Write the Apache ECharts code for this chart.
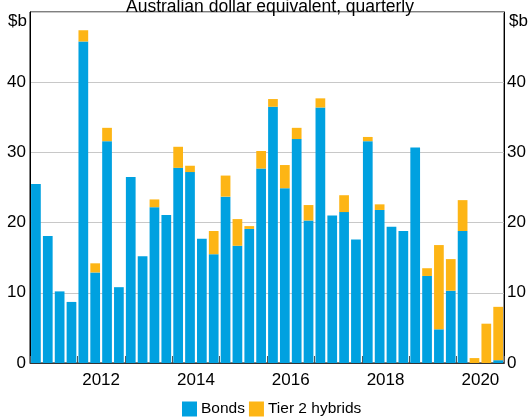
<!DOCTYPE html>
<html>
<head>
<meta charset="utf-8">
<title>Bond issuance</title>
<script src="https://cdn.jsdelivr.net/npm/echarts@6/dist/echarts.min.js"></script>
</head>
<body style="margin:0;padding:0">
<div id="chart" style="width:529px;height:419px"></div>
<script type="text/javascript">
// quarterly, 2011 Q1 .. 2020 Q4
var quarters = [];
var years = ['2011', '2012', '2013', '2014', '2015', '2016', '2017', '2018', '2019', '2020'];
years.forEach(function (y) {
	for (var q = 1; q <= 4; q++) quarters.push(y + ' Q' + q);
});

var bonds = [25.5, 18.1, 10.2, 8.7, 45.8, 12.9, 31.6, 10.8, 26.5, 15.2,
	22.2, 21.1, 27.8, 27.2, 17.7, 15.5, 23.7, 16.7, 19.1, 27.7,
	36.5, 24.9, 31.9, 20.3, 36.4, 21.0, 21.5, 17.6, 31.6, 21.8,
	19.4, 18.8, 30.7, 12.4, 4.8, 10.3, 18.8, 0, 0, 0.4];
var tier2 = [0, 0, 0, 0, 1.6, 1.3, 1.9, 0, 0, 0,
	1.1, 0, 3.0, 0.9, 0, 3.3, 3.0, 3.8, 0.4, 2.5,
	1.1, 3.3, 1.6, 2.2, 1.3, 0, 2.4, 0, 0.6, 0.8,
	0, 0, 0, 1.1, 12.0, 4.5, 4.4, 0.7, 5.6, 7.6];

var blue = '#00A1E0';
var orange = '#FDB515';
var font = 'Arial, "Liberation Sans", sans-serif';

var chart = echarts.init(document.getElementById('chart'));

var yAxisBase = {
	type: 'value',
	min: 0,
	max: 50,
	interval: 10,
	axisLine: { show: true, lineStyle: { color: '#000', width: 1 } },
	axisTick: { show: false },
	splitLine: { show: true, lineStyle: { color: '#c8c8c8', width: 1 } },
	axisLabel: {
		color: '#000',
		fontSize: 17,
		fontFamily: font,
		formatter: function (v) { return v === 50 ? '' : v; }
	}
};

var option = {
	backgroundColor: '#fff',
	animation: false,
	title: {
		text: 'Australian dollar equivalent, quarterly',
		left: 121,
		top: -7,
		textStyle: { color: '#000', fontSize: 17.5, fontWeight: 'normal', fontFamily: font }
	},
	grid: {
		left: 30,
		right: 22.5,
		top: 12,
		bottom: 56,
		show: true,
		borderColor: '#000',
		borderWidth: 1
	},
	legend: {
		data: ['Bonds', 'Tier 2 hybrids'],
		left: 177,
		bottom: -3,
		itemWidth: 15,
		itemHeight: 15,
		itemGap: 4,
		icon: 'rect',
		textStyle: { color: '#000', fontSize: 15.5, fontFamily: font, padding: [0, 0, 0, -1] }
	},
	graphic: [
		{ type: 'text', right: 502, top: 13, style: { text: '$b', fill: '#000', font: '17px ' + font, textAlign: 'right' } },
		{ type: 'text', left: 509, top: 13, style: { text: '$b', fill: '#000', font: '17px ' + font } }
	],
	xAxis: [
		{
			type: 'category',
			data: quarters,
			axisLine: { show: true, lineStyle: { color: '#333', width: 1 } },
			axisTick: { show: false },
			axisLabel: { show: false }
		},
		{
			type: 'category',
			data: years,
			position: 'bottom',
			axisLine: { show: false },
			axisTick: { show: true, inside: true, length: 7, interval: 0, lineStyle: { color: '#555', width: 1 } },
			axisLabel: {
				color: '#000',
				fontSize: 17,
				fontFamily: font,
				margin: 9,
				interval: 0,
				formatter: function (v) { return Number(v) % 2 === 0 ? v : ''; }
			}
		}
	],
	yAxis: [
		Object.assign({}, yAxisBase, { position: 'left', axisLabel: Object.assign({}, yAxisBase.axisLabel, { margin: 4 }) }),
		Object.assign({}, yAxisBase, { position: 'right', axisLabel: Object.assign({}, yAxisBase.axisLabel, { margin: 3 }) })
	],
	series: [
		{
			name: 'Bonds',
			type: 'bar',
			stack: 'total',
			xAxisIndex: 0,
			yAxisIndex: 0,
			barCategoryGap: '18%',
			itemStyle: { color: blue },
			data: bonds
		},
		{
			name: 'Tier 2 hybrids',
			type: 'bar',
			stack: 'total',
			xAxisIndex: 0,
			yAxisIndex: 0,
			barCategoryGap: '18%',
			itemStyle: { color: orange },
			data: tier2
		}
	]
};
chart.setOption(option);
</script>
</body>
</html>
